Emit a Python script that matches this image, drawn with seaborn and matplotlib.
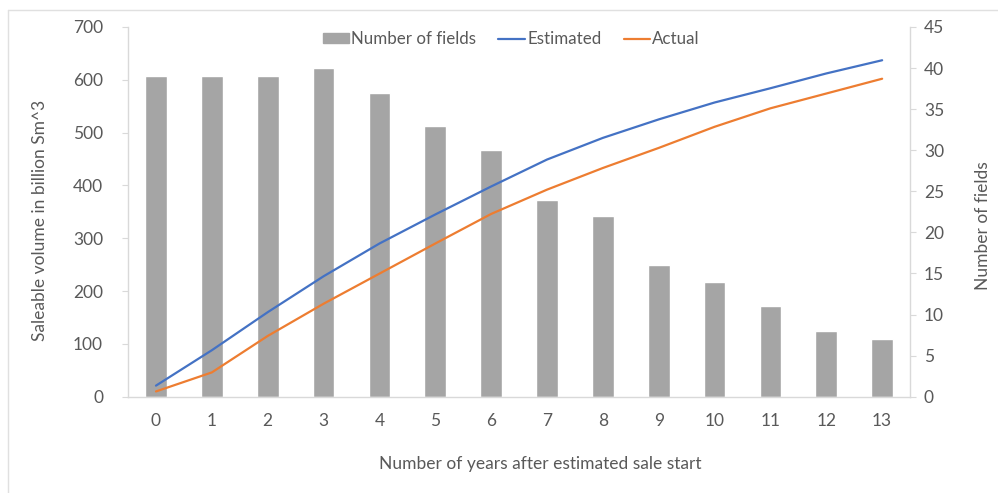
import matplotlib
matplotlib.use("Agg")
import matplotlib.pyplot as plt
import seaborn as sns
import pandas as pd
from matplotlib.patches import Patch
from matplotlib.lines import Line2D

# values
years = list(range(14))
fields = [39, 39, 39, 40, 37, 33, 30, 24, 22, 16, 14, 11, 8, 7]
estimated = [21, 88, 160, 228, 290, 345, 398, 449, 490, 525, 557, 584, 612, 637]
actual = [10, 46, 115, 176, 233, 290, 346, 392, 433, 471, 511, 546, 574, 602]

df = pd.DataFrame({"year": years, "fields": fields,
                   "Estimated": estimated, "Actual": actual})

sns.set_style("white")
plt.rcParams["font.family"] = ["Lato", "DejaVu Sans"]

GREY_TXT = "#595959"
SPINE = "#d9d9d9"
FS = 12.5

fig = plt.figure(figsize=(9.98, 4.93), dpi=100)
ax = fig.add_axes([0.1283, 0.1953, 0.7836, 0.75])
ax2 = ax.twinx()

# bars on the secondary axis, lines on top
sns.barplot(data=df, x="year", y="fields", color="#a5a5a5", width=0.39,
            saturation=1, ax=ax2)
sns.lineplot(data=df, x="year", y="Estimated", color="#4472c4", lw=1.6, ax=ax)
sns.lineplot(data=df, x="year", y="Actual", color="#ed7d31", lw=1.6, ax=ax)
ax.set_zorder(ax2.get_zorder() + 1)
ax.patch.set_visible(False)

ax.set_xlim(-0.5, 13.5)
ax.set_ylim(0, 700)
ax2.set_ylim(0, 45)
ax.set_yticks(range(0, 701, 100))
ax2.set_yticks(range(0, 46, 5))
ax.set_xticks(years)
ax.set_xticklabels([str(y) for y in years])

for a in (ax, ax2):
    for s in a.spines.values():
        s.set_color(SPINE)
        s.set_linewidth(1)
    a.spines["top"].set_visible(False)
ax.spines["right"].set_visible(False)
ax2.spines["left"].set_visible(False)
ax2.spines["bottom"].set_visible(False)

ax.tick_params(axis="y", left=True, length=4, color=SPINE, labelsize=FS,
               labelcolor=GREY_TXT, pad=14)
ax.tick_params(axis="x", bottom=False, labelsize=FS, labelcolor=GREY_TXT, pad=8)
ax2.tick_params(axis="y", right=True, length=4, color=SPINE, labelsize=FS,
                labelcolor=GREY_TXT, pad=6)

ax.set_xlabel("Number of years after estimated sale start", fontsize=FS,
              color=GREY_TXT, labelpad=20)
ax.set_ylabel("Saleable volume in billion Sm^3", fontsize=FS, color=GREY_TXT,
              labelpad=18)
ax2.set_ylabel("Number of fields", fontsize=FS, color=GREY_TXT, labelpad=22)
ax.xaxis.label.set_x(0.527)
ax.yaxis.label.set_y(0.478)
ax2.yaxis.label.set_y(0.462)

handles = [Patch(color="#a5a5a5"),
           Line2D([], [], color="#4472c4", lw=1.6),
           Line2D([], [], color="#ed7d31", lw=1.6)]
leg = ax.legend(handles, ["Number of fields", "Estimated", "Actual"],
                loc="upper center", bbox_to_anchor=(0.49, 1.03), ncol=3,
                frameon=False, fontsize=12.2, handlelength=1.55, handleheight=0.55,
                handletextpad=0.15, columnspacing=1.3)
for t in leg.get_texts():
    t.set_color(GREY_TXT)

# faint screenshot frame lines
fig.add_artist(Line2D([0.008, 1], [0.98, 0.98], color="#e0e0e0", lw=1))
fig.add_artist(Line2D([0.008, 0.008], [0, 0.98], color="#e0e0e0", lw=1))

fig.savefig("out.png", dpi=100)
